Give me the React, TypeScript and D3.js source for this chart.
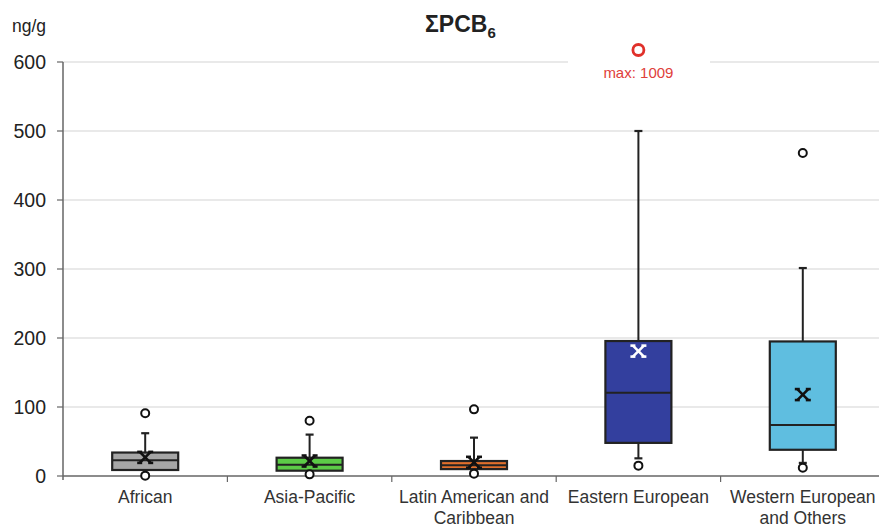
import React from "react";
import * as d3 from "d3";

const categories = ["African", "Asia-Pacific", "Latin American and|Caribbean", "Eastern European", "Western European|and Others"];
const q1 = [8.7, 7.7, 10, 48, 38];
const medians = [23, 16.4, 15.5, 120.7, 74];
const q3 = [34, 26.5, 21.7, 195.6, 195];
const means = [27, 21.7, 19.8, 181, 118];
const whiskerLow = [8.7, 7.7, 10, 25.6, 19];
const whiskerHigh = [62, 60, 55.6, 500, 301.4];
const outliers = [[91, 0.5], [80, 2.4], [96.6, 3.4], [15], [468, 12]];
const fills = ["#a6a6a6", "#5ccb47", "#e06f2c", "#333f9e", "#5fbee0"];
const meanColors = ["#111", "#111", "#111", "#ffffff", "#111"];
const yTicks = [0, 100, 200, 300, 400, 500, 600];
const maxLabel = "max: 1009";

export default function App() {
  const W = 879, H = 528;
  const x0 = 63, x1 = 885;
  const y = d3.scaleLinear().domain([0, 600]).range([476, 62]);
  const x = d3.scaleBand().domain(categories).range([x0, x1]).paddingInner(0).paddingOuter(0);
  const bw = x.bandwidth();
  const boxW = 66;
  const cx = (i: number) => (x(categories[i]) as number) + bw / 2;

  return (
    <svg width={W} height={H} style={{ position: "absolute", left: 0, top: 0, fontFamily: "Liberation Sans, Arial, sans-serif" }}>
      <rect width={W} height={H} fill="#fff" />
      {yTicks.map((t) => (
        <g key={t}>
          {t > 0 && <line x1={x0} x2={W} y1={y(t)} y2={y(t)} stroke="#e2e2e2" strokeWidth={1.5} />}
          <line x1={57} x2={x0} y1={y(t)} y2={y(t)} stroke="#666" strokeWidth={1.2} />
          <text x={46} y={y(t) + 7} textAnchor="end" fontSize={19.5} fill="#222">{t}</text>
        </g>
      ))}
      {/* white patch behind max label */}
      <rect x={568} y={40} width={142} height={48} fill="#fff" />
      <line x1={x0} x2={x0} y1={y(600)} y2={y(0) + 4} stroke="#666" strokeWidth={1.5} />
      <line x1={x0} x2={W} y1={y(0)} y2={y(0)} stroke="#666" strokeWidth={1.5} />
      {categories.slice(1).map((c) => (
        <line key={c} x1={x(c) as number} x2={x(c) as number} y1={y(0)} y2={y(0) + 6} stroke="#666" strokeWidth={1.2} />
      ))}
      <text x={12} y={32} fontSize={17.5} fill="#222">ng/g</text>
      <text x={425} y={32} textAnchor="start" fontSize={23} fontWeight="bold" fill="#222">
        ΣPCB<tspan fontSize={15} dy={6}>6</tspan>
      </text>
      {categories.map((c, i) => {
        const lines = c.split("|");
        return lines.map((l, j) => (
          <text key={c + j} x={cx(i)} y={503 + j * 21} textAnchor="middle" fontSize={17.5} fill="#333">{l}</text>
        ));
      })}
      {categories.map((c, i) => {
        const m = cx(i);
        const mx = y(means[i]);
        const s = 5.5;
        const sb = 2.5;
        return (
          <g key={c}>
            <line x1={m} x2={m} y1={y(q3[i])} y2={y(whiskerHigh[i])} stroke="#222" strokeWidth={2} />
            <line x1={m - 4} x2={m + 4} y1={y(whiskerHigh[i])} y2={y(whiskerHigh[i])} stroke="#222" strokeWidth={2.2} />
            {whiskerLow[i] < q1[i] && (
              <g>
                <line x1={m} x2={m} y1={y(q1[i])} y2={y(whiskerLow[i])} stroke="#222" strokeWidth={2} />
                <line x1={m - 4} x2={m + 4} y1={y(whiskerLow[i])} y2={y(whiskerLow[i])} stroke="#222" strokeWidth={2.2} />
              </g>
            )}
            <rect x={m - boxW / 2} y={y(q3[i])} width={boxW} height={y(q1[i]) - y(q3[i])} fill={fills[i]} stroke="#222" strokeWidth={2.2} />
            <line x1={m - boxW / 2} x2={m + boxW / 2} y1={y(medians[i])} y2={y(medians[i])} stroke="#222" strokeWidth={2} />
            <g stroke={meanColors[i]} strokeWidth={2.6}>
              <line x1={m - s} x2={m + s} y1={mx - s} y2={mx + s} />
              <line x1={m - s} x2={m + s} y1={mx + s} y2={mx - s} />
              <line x1={m - s - sb} x2={m - s + sb} y1={mx - s} y2={mx - s} />
              <line x1={m + s - sb} x2={m + s + sb} y1={mx - s} y2={mx - s} />
              <line x1={m - s - sb} x2={m - s + sb} y1={mx + s} y2={mx + s} />
              <line x1={m + s - sb} x2={m + s + sb} y1={mx + s} y2={mx + s} />
            </g>
            {outliers[i].map((o, k) => (
              <circle key={k} cx={m} cy={y(o)} r={4} fill="#fff" stroke="#111" strokeWidth={2} />
            ))}
          </g>
        );
      })}
      <circle cx={cx(3)} cy={50} r={5.5} fill="none" stroke="#e0302a" strokeWidth={2.8} />
      <text x={cx(3)} y={78} textAnchor="middle" fontSize={15} fill="#e0403a">{maxLabel}</text>
    </svg>
  );
}
